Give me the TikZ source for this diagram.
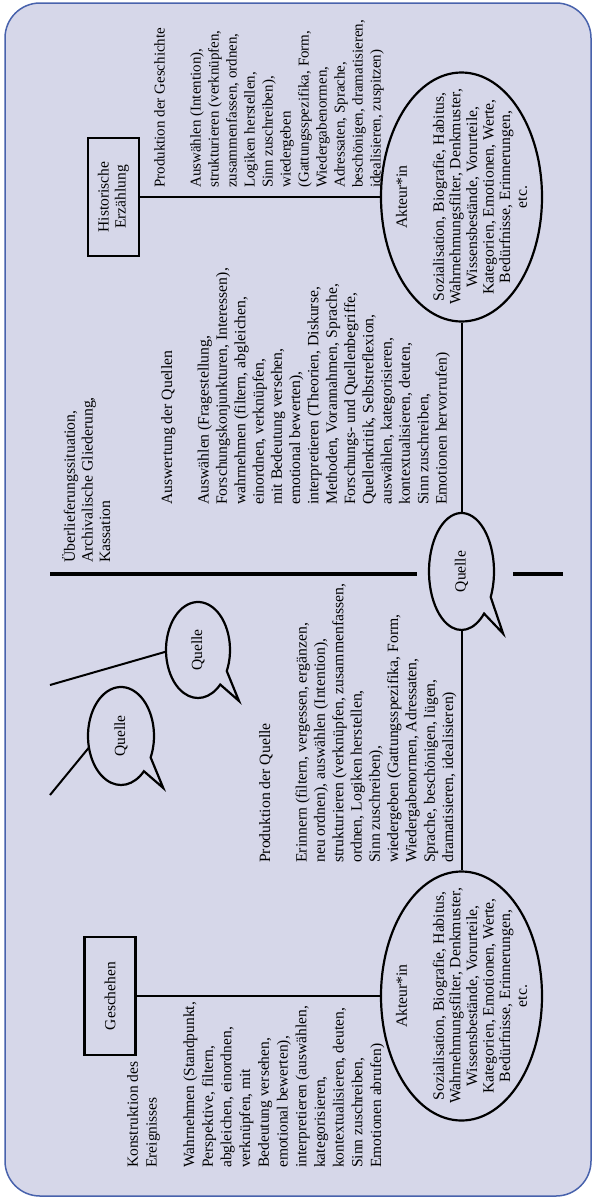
\documentclass[tikz,border=0pt]{standalone}
\usepackage{fontspec}
\setmainfont{Liberation Serif}
\usetikzlibrary{shapes.geometric}
\definecolor{bgfill}{RGB}{214,215,233}
\definecolor{frameblue}{RGB}{72,98,172}
\begin{document}
\begin{tikzpicture}[x=1pt,y=1pt,
  txt/.style={anchor=north west, align=left, inner sep=0pt, font=\fontsize{15.7}{18.3}\selectfont},
  boxnode/.style={draw, line width=2.2pt, rectangle, minimum width=118pt, minimum height=51pt, inner sep=0pt, align=center, font=\fontsize{15.5}{17}\selectfont},
  akteur/.style={draw, line width=2.2pt, ellipse, inner sep=0pt, minimum width=249pt, minimum height=161pt},
  akttext/.style={align=center, inner sep=0pt, font=\fontsize{15.7}{16.6}\selectfont},
  bubblearea/.style={ellipse, inner sep=0pt},
  bubbleline/.style={line width=2.2pt, line join=miter},
  bubbletext/.style={inner sep=0pt, font=\fontsize{15.5}{17}\selectfont},
  conn/.style={line width=2pt},
  divider/.style={line width=4pt}
]
\useasboundingbox (0,0) rectangle (596,-1200);
\begin{scope}[shift={(596,-1200)}, rotate=90, transform shape]
% frame
\draw[frameblue, fill=bgfill, line width=1.5pt, rounded corners=35pt] (4,5) rectangle (1197,591);

% boxes and ellipses
\node[boxnode] (gesch) at (204,486) {Geschehen};
\node[boxnode] (hist) at (1003,482.5) {Historische\\Erzählung};
\node[akteur] (akt1) at (204,134.5) {};
\node[akteur] (akt2) at (1003,134.5) {};
\node[akttext] (akt1t) at (akt1.center) {Akteur*in\\[20.4pt]Sozialisation, Biografie, Habitus,\\Wahrnehmungsfilter, Denkmuster,\\Wissensbestände, Vorurteile,\\Kategorien, Emotionen, Werte,\\Bedürfnisse, Erinnerungen,\\etc.};
\node[akttext] (akt2t) at (akt2.center) {Akteur*in\\[20.4pt]Sozialisation, Biografie, Habitus,\\Wahrnehmungsfilter, Denkmuster,\\Wissensbestände, Vorurteile,\\Kategorien, Emotionen, Werte,\\Bedürfnisse, Erinnerungen,\\etc.};

% speech bubbles
\node[bubblearea, minimum width=117pt, minimum height=65pt] (qc) at (628.5,134.5) {};
\node[bubblearea, minimum width=96pt, minimum height=64pt] (qa) at (550,398) {};
\node[bubblearea, minimum width=98pt, minimum height=66pt] (qb) at (464,475) {};
\draw[bubbleline] (qc.center) ++(244:58.5pt and 32.5pt) arc[start angle=244, end angle=584, x radius=58.5pt, y radius=32.5pt] -- ++(-0.341*58.5pt,-0.585*32.5pt) -- cycle;
\draw[bubbleline] (qa.center) ++(244:48pt and 32pt) arc[start angle=244, end angle=584, x radius=48pt, y radius=32pt] -- ++(-0.341*48pt,-0.585*32pt) -- cycle;
\draw[bubbleline] (qb.center) ++(244:49pt and 33pt) arc[start angle=244, end angle=584, x radius=49pt, y radius=33pt] -- ++(-0.341*49pt,-0.585*33pt) -- cycle;
\node[bubbletext] (qct) at (qc.center) {Quelle};
\node[bubbletext] (qat) at (qa.center) {Quelle};
\node[bubbletext] (qbt) at (qb.center) {Quelle};

% connectors
\draw[conn] (gesch.south) -- (akt1.north);
\draw[conn] (hist.south) -- (akt2.north);
\draw[conn] (akt1.east) -- (qc.west);
\draw[conn] (qc.east) -- (akt2.west);
\coordinate (ca) at (515,546);
\coordinate (cb) at (405,546);
\draw[conn] (ca) -- (qa.93);
\draw[conn] (cb) -- (qb.110);

% divider
\coordinate (d1) at (626,546);
\coordinate (d2) at (626,179);
\coordinate (d3) at (626,83);
\coordinate (d4) at (626,33);
\draw[divider] (d1) -- (d2);
\draw[divider] (d3) -- (d4);

% text blocks
\node[txt, font=\fontsize{15.5}{18.7}\selectfont] (konstr) at (32,469) {Konstruktion des\\Ereignisses\\[18.7pt]Wahrnehmen (Standpunkt,\\Perspektive, filtern,\\abgleichen, einordnen,\\verknüpfen, mit\\Bedeutung versehen,\\emotional bewerten),\\interpretieren (auswählen,\\kategorisieren,\\kontextualisieren, deuten,\\Sinn zuschreiben,\\Emotionen abrufen)};

\node[txt] (prodq) at (337,337) {Produktion der Quelle\\[18.3pt]Erinnern (filtern, vergessen, ergänzen,\\neu ordnen), auswählen (Intention),\\strukturieren (verknüpfen, zusammenfassen,\\ordnen, Logiken herstellen,\\Sinn zuschreiben),\\wiedergeben (Gattungsspezifika, Form,\\Wiedergabenormen, Adressaten,\\Sprache, beschönigen, lügen,\\dramatisieren, idealisieren)};

\node[txt, font=\fontsize{15.7}{17.6}\selectfont] (ueber) at (637,534) {Überlieferungssituation,\\Archivalische Gliederung,\\Kassation};

\node[txt] (ausw) at (695,435) {Auswertung der Quellen\\[18.3pt]Auswählen (Fragestellung,\\Forschungskonjunkturen, Interessen),\\wahrnehmen (filtern, abgleichen,\\einordnen, verknüpfen,\\mit Bedeutung versehen,\\emotional bewerten),\\interpretieren (Theorien, Diskurse,\\Methoden, Vorannahmen, Sprache,\\Forschungs- und Quellenbegriffe,\\Quellenkritik, Selbstreflexion,\\auswählen, kategorisieren,\\kontextualisieren, deuten,\\Sinn zuschreiben,\\Emotionen hervorrufen)};

\node[txt, font=\fontsize{15}{18}\selectfont] (prodg) at (1012,442) {Produktion der Geschichte\\[18pt]Auswählen (Intention),\\strukturieren (verknüpfen,\\zusammenfassen, ordnen,\\Logiken herstellen,\\Sinn zuschreiben),\\wiedergeben\\(Gattungsspezifika, Form,\\Wiedergabenormen,\\Adressaten, Sprache,\\beschönigen, dramatisieren,\\idealisieren, zuspitzen)};
\end{scope}
\end{tikzpicture}
\end{document}
